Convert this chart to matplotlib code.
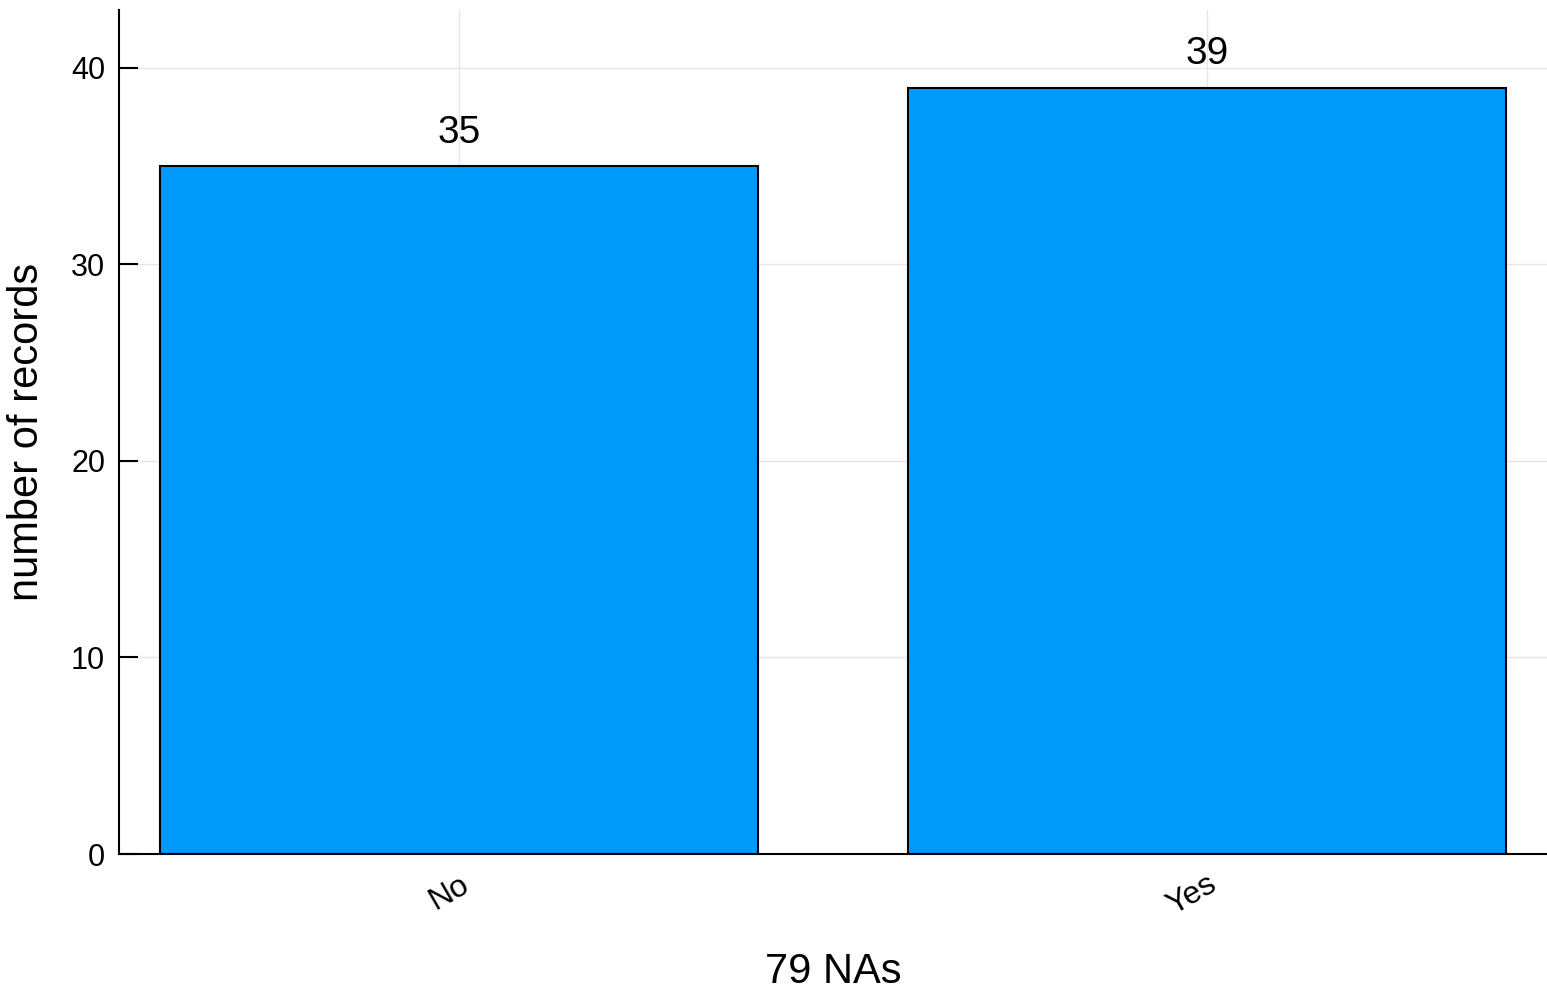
import matplotlib
matplotlib.use("Agg")
import matplotlib.pyplot as plt

categories = ["No", "Yes"]
counts = [35, 39]
y_ticks = [0, 10, 20, 30, 40]
x_label = "79 NAs"
y_label = "number of records"

plt.rcParams['font.family'] = ['Liberation Sans', 'DejaVu Sans']

fig = plt.figure(figsize=(15.47, 9.92), dpi=100)
ax = fig.add_axes([119/1547, 138/992, 1 - 119/1547, (854-10)/992])

pos = list(range(len(categories)))
ax.bar(pos, counts, width=0.8, color="#009AFA", edgecolor="black", linewidth=1.5, zorder=2)
for p, c in zip(pos, counts):
    ax.annotate(str(c), (p, c), xytext=(0, 11), textcoords="offset points",
                ha="center", va="bottom", fontsize=28)

ax.set_xlim(-0.4545, 1.4545)
ax.set_ylim(0, 42.95)
ax.set_yticks(y_ticks)
ax.set_xticks(pos)
ax.set_xticklabels(categories, rotation=30, ha="right", va="top",
                   rotation_mode="anchor", fontsize=23)
ax.tick_params(axis="y", labelsize=22, direction="in", length=14, width=1.5, pad=10)
ax.tick_params(axis="x", direction="in", length=0, pad=11)
ax.grid(True, color="#e6e6e6", linewidth=1.0, zorder=0)
ax.set_axisbelow(True)
for s in ["top", "right"]:
    ax.spines[s].set_visible(False)
for s in ["left", "bottom"]:
    ax.spines[s].set_linewidth(1.5)
ax.set_xlabel(x_label, fontsize=30, labelpad=22)
ax.set_ylabel(y_label, fontsize=30, labelpad=17)

fig.savefig("out.png", dpi=100)
